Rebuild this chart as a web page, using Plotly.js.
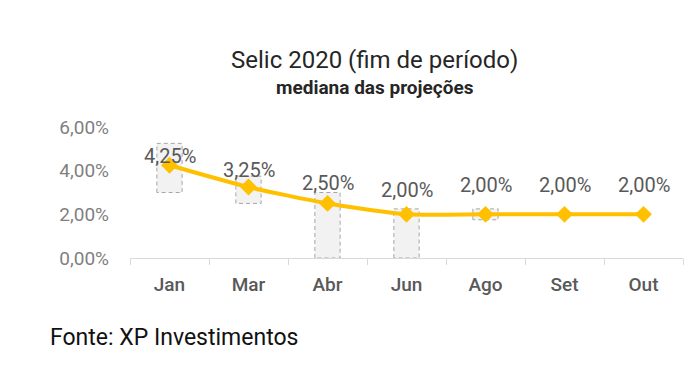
<!DOCTYPE html>
<html><head><meta charset="utf-8">
<script src="https://cdn.plot.ly/plotly-3.0.1.min.js"></script>
<style>html,body{margin:0;padding:0;background:#fff}</style>
</head><body><div id="chart" style="width:700px;height:378px"></div>
<script>
const months = ["Jan","Mar","Abr","Jun","Ago","Set","Out"];
const median = [4.25,3.25,2.50,2.00,2.00,2.00,2.00];
const rangeLow = [3.00,2.50,0.00,0.00,1.75,null,null];
const rangeHigh = [5.25,3.75,3.00,2.25,2.25,null,null];
const labels = median.map(v => v.toFixed(2).replace('.', ',') + '%');
const labelShift = [9,17,20,24,29,29,29];

const bars = {
  type: 'bar', x: months,
  y: rangeHigh.map((h,i) => h==null ? null : h - rangeLow[i]),
  base: rangeLow,
  width: 0.32,
  marker: {color: '#f2f2f2', line: {color: '#a6a6a6', width: 1}},
  hoverinfo: 'skip', showlegend: false
};
const line = {
  type: 'scatter', mode: 'lines+markers', x: months, y: median,
  line: {color: '#FFC000', width: 4, shape: 'spline', smoothing: 0.6},
  marker: {symbol: 'diamond', size: 13, color: '#FFC000'},
  showlegend: false, cliponaxis: false
};
const valueLabels = months.map((m,i) => ({
  x: m, y: median[i], xref: 'x', yref: 'y', text: labels[i], showarrow: false,
  yshift: labelShift[i], yanchor: 'middle',
  font: {family: 'Roboto, sans-serif', size: 20, color: '#595959'}
}));
const layout = {
  width: 700, height: 378,
  margin: {l: 130, r: 17, t: 127, b: 120},
  paper_bgcolor: '#fff', plot_bgcolor: '#fff',
  font: {family: 'Roboto, sans-serif'},
  xaxis: {
    type: 'category', showgrid: false, showline: true, linecolor: '#d9d9d9', linewidth: 1,
    ticks: 'outside', tickson: 'boundaries', ticklen: 6, tickcolor: '#d9d9d9',
    tickfont: {family: 'Roboto, sans-serif', size: 19, color: '#595959', weight: 500},
    ticklabelstandoff: 9
  },
  yaxis: {
    range: [0, 6], tickvals: [0,2,4,6],
    ticktext: ['0,00%','2,00%','4,00%','6,00%'],
    showgrid: false, zeroline: false, showline: false,
    tickfont: {family: 'Roboto, sans-serif', size: 19, color: '#7f7f7f'},
    ticklabelstandoff: 20
  },
  annotations: [
    {xref: 'paper', yref: 'paper', x: 0.443, y: 1.511, yanchor: 'middle', text: 'Selic 2020 (fim de período)',
     showarrow: false, font: {family: 'Roboto, sans-serif', size: 24, color: '#262626'}},
    {xref: 'paper', yref: 'paper', x: 0.443, y: 1.298, yanchor: 'middle', text: 'mediana das projeções',
     showarrow: false, font: {family: 'Roboto, sans-serif', size: 19, color: '#262626', weight: 700}},
    {xref: 'paper', yref: 'paper', x: -0.148, y: -0.61, xanchor: 'left', yanchor: 'middle', text: 'Fonte: XP Investimentos',
     showarrow: false, font: {family: 'Roboto, sans-serif', size: 23, color: '#111'}}
  ].concat(valueLabels)
};
Plotly.newPlot('chart', [bars, line], layout, {displayModeBar: false, staticPlot: true}).then(() => {
  document.querySelectorAll('.bars path').forEach(p => { p.style.strokeDasharray = '4,3'; });
});
</script></body></html>
